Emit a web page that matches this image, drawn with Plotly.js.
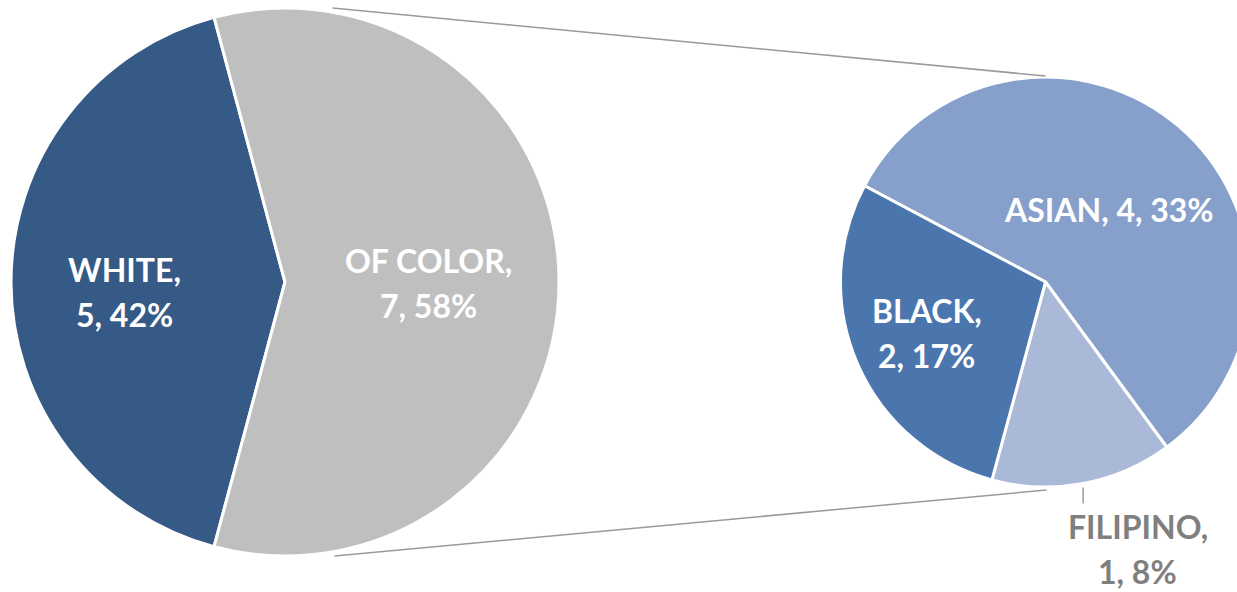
<!DOCTYPE html>
<html>
<head>
<meta charset="utf-8">
<script src="https://cdn.plot.ly/plotly-3.0.1.min.js"></script>
<style>
html, body { margin: 0; padding: 0; overflow: hidden; background: #ffffff; }
#chart { width: 1260px; height: 592px; }
</style>
</head>
<body>
<div id="chart"></div>
<script>
// ---- data ----
const mainLabels = ['WHITE', 'OF COLOR'];
const mainValues = [5, 7];
const subLabels = ['ASIAN', 'FILIPINO', 'BLACK'];
const subValues = [4, 1, 2];

// ---- styles ----
const mainColors = ['#355A86', '#BFBFBF'];
const subColors = ['#86A0CB', '#AAB9D7', '#4A76AD'];
const mainLabelRadius = [0.584, 0.525];
const mainLabelNudgeY = [10, 1];
const subLabelRadius = [0.47, null, 0.63];   // null = outside label with leader
const W = 1260, H = 592;
const leftPie = { cx: 285, cy: 282, r: 274, rotation: -165 };
const rightPie = { cx: 1045.5, cy: 282, r: 205, rotation: -62 };
const FONT = 'Lato, "Open Sans", sans-serif';
const FSIZE = 32;
const LINE_GAP = 45;
const CONNECTOR_COLOR = '#9A9A9A';

const total = mainValues.reduce((a, b) => a + b, 0);
const pct = v => Math.round(v / total * 100) + '%';

function domainOf(p) {
  return {
    x: [(p.cx - p.r) / W, (p.cx + p.r) / W],
    y: [1 - (p.cy + p.r) / H, 1 - (p.cy - p.r) / H]
  };
}
function midAngles(values, rotation) {
  const s = values.reduce((a, b) => a + b, 0);
  let acc = 0;
  return values.map(v => {
    const m = rotation + (acc + v / 2) / s * 360;
    acc += v;
    return m;
  });
}
function polar(p, frac, deg) {
  const a = deg * Math.PI / 180;
  return [p.cx + frac * p.r * Math.sin(a), p.cy - frac * p.r * Math.cos(a)];
}
const px2x = x => x / W;
const px2y = y => 1 - y / H;

const pieCommon = {
  type: 'pie', sort: false, direction: 'clockwise', textinfo: 'none',
  hoverinfo: 'label+value', showlegend: false
};
const traces = [
  Object.assign({}, pieCommon, {
    labels: mainLabels, values: mainValues, rotation: leftPie.rotation,
    domain: domainOf(leftPie),
    marker: { colors: mainColors, line: { color: '#ffffff', width: 3 } }
  }),
  Object.assign({}, pieCommon, {
    labels: subLabels, values: subValues, rotation: rightPie.rotation,
    domain: domainOf(rightPie),
    marker: { colors: subColors, line: { color: '#ffffff', width: 3 } }
  })
];

const annotations = [];
const shapes = [];
function addLines(cx, cy, lines, color) {
  const n = lines.length;
  lines.forEach((t, i) => {
    annotations.push({
      xref: 'paper', yref: 'paper', x: px2x(cx), y: px2y(cy),
      xanchor: 'center', yanchor: 'middle', showarrow: false,
      yshift: -((i - (n - 1) / 2) * LINE_GAP),
      text: '<b>' + t + '</b>',
      font: { family: FONT, size: FSIZE, color: color }
    });
  });
}

// main pie labels
midAngles(mainValues, leftPie.rotation).forEach((m, i) => {
  const [x, y] = polar(leftPie, mainLabelRadius[i], m);
  addLines(x, y + mainLabelNudgeY[i], [mainLabels[i] + ',', mainValues[i] + ', ' + pct(mainValues[i])], '#ffffff');
});
// sub pie labels
midAngles(subValues, rightPie.rotation).forEach((m, i) => {
  const lbl = subLabels[i], v = subValues[i];
  if (subLabelRadius[i] !== null) {
    const [x, y] = polar(rightPie, subLabelRadius[i], m);
    const lines = (i === 0) ? [lbl + ', ' + v + ', ' + pct(v)] : [lbl + ',', v + ', ' + pct(v)];
    addLines(x, y, lines, '#ffffff');
  } else {
    const [ex, ey] = polar(rightPie, 1, m);
    shapes.push({ type: 'line', xref: 'paper', yref: 'paper',
      x0: px2x(ex), y0: px2y(ey + 4), x1: px2x(ex), y1: px2y(ey + 20),
      line: { color: CONNECTOR_COLOR, width: 1.5 } });
    addLines(ex + 54.5, ey + 20 + 45, [lbl + ',', v + ', ' + pct(v)], '#7F7F7F');
  }
});

// connector lines between the pies
const sx = leftPie.cx + leftPie.r * Math.sin(10 * Math.PI / 180);
shapes.push({ type: 'line', xref: 'paper', yref: 'paper',
  x0: px2x(sx), y0: px2y(leftPie.cy - leftPie.r), x1: px2x(rightPie.cx), y1: px2y(rightPie.cy - rightPie.r - 1),
  line: { color: CONNECTOR_COLOR, width: 1.5 } });
shapes.push({ type: 'line', xref: 'paper', yref: 'paper',
  x0: px2x(sx + 2), y0: px2y(leftPie.cy + leftPie.r), x1: px2x(rightPie.cx + 1), y1: px2y(rightPie.cy + rightPie.r + 3),
  line: { color: CONNECTOR_COLOR, width: 1.5 } });

const layout = {
  width: W, height: H,
  margin: { l: 0, r: 0, t: 0, b: 0, pad: 0 },
  paper_bgcolor: '#ffffff', plot_bgcolor: '#ffffff',
  showlegend: false,
  annotations: annotations,
  shapes: shapes
};
Plotly.newPlot('chart', traces, layout, { displayModeBar: false, staticPlot: true });
</script>
</body>
</html>
